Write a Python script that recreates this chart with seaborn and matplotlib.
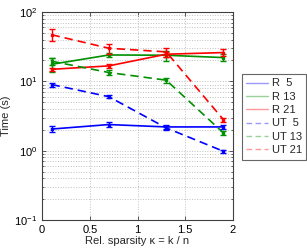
import numpy as np
import pandas as pd
import matplotlib
matplotlib.use("Agg")
import matplotlib.pyplot as plt
import seaborn as sns
from matplotlib.ticker import LogLocator, NullFormatter

sns.set_style("ticks")
plt.rcParams["font.family"] = ["Liberation Sans", "DejaVu Sans"]
plt.rcParams["mathtext.fontset"] = "custom"
plt.rcParams["mathtext.rm"] = "Liberation Sans"

sparsity = [0.1, 0.7, 1.3, 1.9]

labels = ["R  5", "R 13", "R 21", "UT  5", "UT 13", "UT 21"]
times = {
    "R  5": [2.05, 2.38, 2.2, 2.2],
    "R 13": [17.6, 24.0, 23.8, 22.0],
    "R 21": [14.9, 16.7, 24.6, 26.0],
    "UT  5": [9.0, 6.0, 2.13, 0.98],
    "UT 13": [19.5, 13.4, 10.4, 1.8],
    "UT 21": [47.0, 30.0, 26.6, 2.8],
}
errors = {
    "R  5": [0.2, 0.2, 0.15, 0.15],
    "R 13": [4.0, 1.5, 4.0, 2.5],
    "R 21": [0.8, 1.0, 2.0, 2.8],
    "UT  5": [0.6, 0.3, 0.12, 0.05],
    "UT 13": [2.5, 1.0, 0.8, 0.1],
    "UT 21": [9.0, 5.0, 4.0, 0.2],
}

colors = {"R  5": "#0000ff", "R 13": "#009000", "R 21": "#ff0000",
          "UT  5": "#0000ff", "UT 13": "#009000", "UT 21": "#ff0000"}

rows = []
for lab in labels:
    for x, y in zip(sparsity, times[lab]):
        rows.append({"kappa": x, "time": y, "series": lab})
df = pd.DataFrame(rows)

fig = plt.figure(figsize=(3.07, 2.5), dpi=100)
ax = fig.add_axes([0.137, 0.12, 0.622, 0.832])

dashes = {lab: ("" if lab.startswith("R") else (5, 3)) for lab in labels}
sns.lineplot(data=df, x="kappa", y="time", hue="series", style="series",
             palette=colors, dashes=dashes, hue_order=labels, style_order=labels,
             linewidth=1.2, ax=ax, legend=False)

for lab in labels:
    ax.errorbar(sparsity, times[lab], yerr=errors[lab], fmt="none",
                ecolor=colors[lab], elinewidth=1.0, capsize=2.2, capthick=1.0)
    ax.plot(sparsity, times[lab], "s", color=colors[lab], markersize=2)

ax.set_yscale("log")
ax.set_xlim(0, 2)
ax.set_ylim(0.1, 100)
ax.set_xticks([0, 0.5, 1, 1.5, 2])
ax.set_xticklabels(["0", "0.5", "1", "1.5", "2"])
ax.yaxis.set_major_locator(LogLocator(base=10, numticks=10))
ax.yaxis.set_minor_locator(LogLocator(base=10, subs=np.arange(2, 10), numticks=10))
ax.yaxis.set_minor_formatter(NullFormatter())

ax.grid(True, which="major", linestyle=":", color="#c0c0c0", linewidth=0.7)
ax.grid(True, which="minor", axis="y", linestyle=":", color="#c0c0c0", linewidth=0.7)
ax.tick_params(direction="in", labelsize=8, length=3, width=0.6, colors="#404040",
               labelcolor="black", top=True, right=True)
ax.tick_params(which="minor", direction="in", length=1.5, width=0.5, right=True)
for s in ax.spines.values():
    s.set_color("#404040")
    s.set_linewidth(0.8)

ax.set_xlabel("Rel. sparsity \u03ba = k / n", fontsize=8, labelpad=1)
ax.set_ylabel("Time (s)", fontsize=8, labelpad=2)

handles = []
for lab in labels:
    ls = "-" if lab.startswith("R") else (0, (4, 2.5))
    h, = ax.plot([], [], color=colors[lab], linestyle=ls, linewidth=1.0, alpha=0.4)
    handles.append(h)
leg = fig.legend(handles, labels, loc="upper left", bbox_to_anchor=(0.787, 0.704),
                 fontsize=8, frameon=True, fancybox=False, handlelength=2.0,
                 handletextpad=0.3, borderpad=0.4, labelspacing=0.3,
                 borderaxespad=0)
leg.get_frame().set_edgecolor("#404040")
leg.get_frame().set_linewidth(0.8)

fig.savefig("out.png", dpi=100)
